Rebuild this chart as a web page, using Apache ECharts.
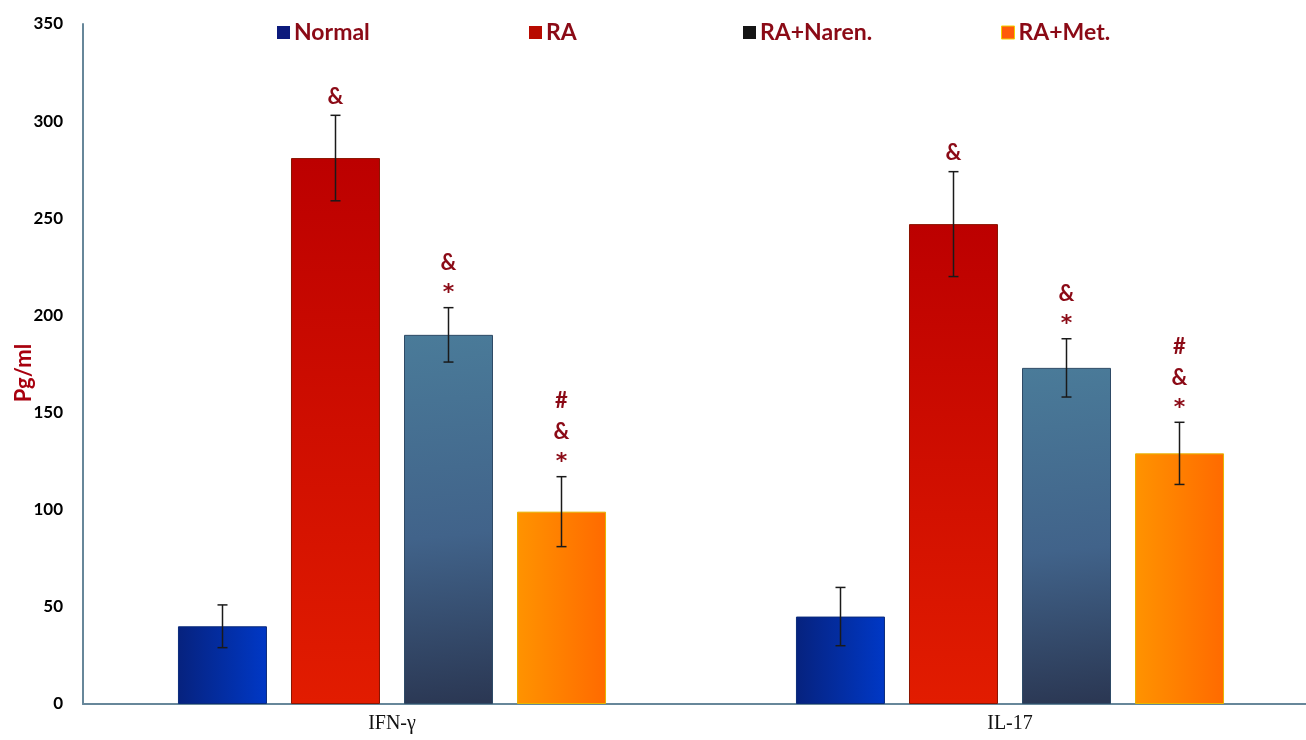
<!DOCTYPE html>
<html>
<head>
<meta charset="utf-8">
<script src="https://cdn.jsdelivr.net/npm/echarts@6/dist/echarts.min.js"></script>
<style>
  html, body { margin: 0; padding: 0; background: #fff; overflow: hidden; }
  /* the plot area runs slightly past the right edge of the window */
  #chart { width: 1320px; height: 740px; }
</style>
</head>
<body>
<div id="chart"></div>
<script>
// Cytokine levels (pg/ml) per group
const categories = ['IFN-γ', 'IL-17'];
const groupNames = ['Normal', 'RA', 'RA+Naren.', 'RA+Met.'];

const normalVals = [40, 45];
const raVals = [281, 247];
const narenVals = [190, 173];
const metVals = [99, 129];

// standard error (half-length of the error bars)
const normalErr = [11, 15];
const raErr = [22, 27];
const narenErr = [14, 15];
const metErr = [18, 16];

// significance marks drawn above each error bar
const normalSig = ['', ''];
const raSig = ['&', '&'];
const narenSig = ['&\n*', '&\n*'];
const metSig = ['#\n&\n*', '#\n&\n*'];

const yTicks = { min: 0, max: 350, interval: 50 };

const values = [normalVals, raVals, narenVals, metVals];
const errors = [normalErr, raErr, narenErr, metErr];
const marks = [normalSig, raSig, narenSig, metSig];

// visual styling
const BAR_W = 89;
const BAR_GAP = 24;
const axisColor = '#67879a';
const markColor = '#8b0a16';

const fills = [
  new echarts.graphic.LinearGradient(0, 0, 1, 0, [
    { offset: 0, color: '#06227e' }, { offset: 1, color: '#0038c6' }]),
  new echarts.graphic.LinearGradient(0, 0, 0, 1, [
    { offset: 0, color: '#bc0000' }, { offset: 1, color: '#e21c00' }]),
  new echarts.graphic.LinearGradient(0, 0, 0.4, 1, [
    { offset: 0, color: '#4a7b99' }, { offset: 0.55, color: '#41638a' }, { offset: 1, color: '#2b3854' }]),
  new echarts.graphic.LinearGradient(0, 0, 1, 0, [
    { offset: 0, color: '#ff9300' }, { offset: 1, color: '#ff6a00' }])
];
const borders = ['#0a2a7a', '#8a1400', '#2e4a66', '#e6b400'];
const legendColors = ['#0c1a7c', '#b80a00', '#151515', '#ff5a0a'];
const legendLeft = [277, 529, 743, 1001];

const barSeries = groupNames.map((name, i) => ({
  name: name,
  type: 'bar',
  data: values[i],
  barWidth: BAR_W,
  barGap: (BAR_GAP / BAR_W * 100).toFixed(1) + '%',
  itemStyle: { color: fills[i], borderColor: borders[i], borderWidth: 1 },
  z: 2
}));

// wrap asterisks so they get a larger glyph
function markText(sig) {
  return sig.split('\n').map(s => s === '*' ? '{star|*}' : '{sym|' + s + '}').join('\n');
}

// error bars + significance marks, one custom series per group
const errSeries = groupNames.map((name, i) => ({
  name: name + ' error',
  type: 'custom',
  z: 5,
  data: categories.map((c, k) => [k, values[i][k], errors[i][k]]),
  renderItem: function (params, api) {
    const k = api.value(0);
    const v = api.value(1);
    const e = api.value(2);
    const sig = marks[i][k];
    const offset = (i - 1.5) * (BAR_W + BAR_GAP);
    const top = api.coord([k, v + e]);
    const bot = api.coord([k, v - e]);
    const x = top[0] + offset;
    const cap = 5;
    const lineStyle = { stroke: '#1a1a1a', lineWidth: 1.5 };
    const children = [
      { type: 'line', shape: { x1: x, y1: top[1], x2: x, y2: bot[1] }, style: lineStyle },
      { type: 'line', shape: { x1: x - cap, y1: top[1], x2: x + cap, y2: top[1] }, style: lineStyle },
      { type: 'line', shape: { x1: x - cap, y1: bot[1], x2: x + cap, y2: bot[1] }, style: lineStyle }
    ];
    if (sig) {
      children.push({
        type: 'text',
        style: {
          text: markText(sig), x: x, y: top[1] - 3,
          align: 'center', verticalAlign: 'bottom',
          rich: {
            sym: { font: 'bold 22px Lato', lineHeight: 31, fill: markColor, align: 'center' },
            star: { font: 'bold 22px "DejaVu Sans"', lineHeight: 26, fill: markColor, align: 'center', verticalAlign: 'bottom' }
          }
        }
      });
    }
    return { type: 'group', children: children };
  }
}));

const legends = groupNames.map((name, i) => ({
  left: legendLeft[i],
  top: 21,
  padding: 0,
  itemWidth: 13,
  itemHeight: 13,
  icon: 'rect',
  selectedMode: false,
  textStyle: { color: markColor, fontFamily: 'Lato', fontWeight: 'bold', fontSize: 23, padding: [0, 0, 0, -1] },
  data: [{ name: name, itemStyle: { color: legendColors[i], borderColor: i === 3 ? '#f2d000' : legendColors[i], borderWidth: i === 3 ? 1 : 0 } }]
}));

const chart = echarts.init(document.getElementById('chart'), null, { renderer: 'canvas' });
chart.setOption({
  animation: false,
  backgroundColor: '#ffffff',
  legend: legends,
  grid: { left: 83, top: 24, width: 1236, bottom: 36, containLabel: false, outerBoundsMode: 'none' },
  xAxis: {
    type: 'category',
    data: categories,
    axisTick: { show: false },
    axisLine: { lineStyle: { color: axisColor, width: 2 } },
    axisLabel: { color: '#111', fontFamily: 'Liberation Serif', fontSize: 20, margin: 10 }
  },
  yAxis: {
    type: 'value',
    min: yTicks.min, max: yTicks.max, interval: yTicks.interval,
    name: 'Pg/ml',
    nameLocation: 'middle',
    nameGap: 48,
    nameMoveOverlap: false,
    nameTextStyle: { color: '#a8000e', fontFamily: 'Lato', fontWeight: 'bold', fontSize: 22, padding: [0, 18, 0, 0] },
    axisLine: { show: true, lineStyle: { color: axisColor, width: 2 } },
    axisTick: { show: false },
    splitLine: { show: false },
    axisLabel: { color: '#000', fontFamily: 'Lato', fontWeight: 'bold', fontSize: 17, margin: 20 }
  },
  series: barSeries.concat(errSeries)
});
</script>
</body>
</html>
